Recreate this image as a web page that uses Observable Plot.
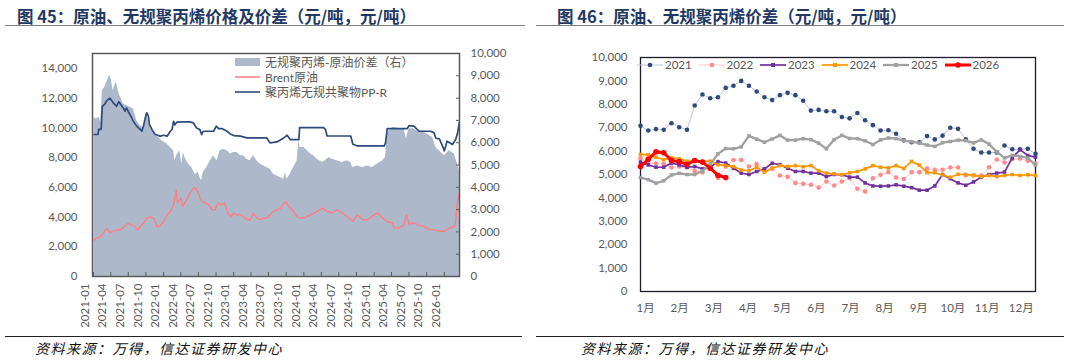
<!DOCTYPE html>
<html><head><meta charset="utf-8">
<script src="https://cdn.jsdelivr.net/npm/d3@7"></script>
<script src="https://cdn.jsdelivr.net/npm/@observablehq/plot@0.6"></script>
<style>
html,body{margin:0;padding:0;background:#fff;}
body{width:1068px;height:360px;overflow:hidden;position:relative;font-family:Lato,"Noto Sans CJK SC",sans-serif;}
.panel{position:absolute;top:0;width:534px;height:360px;}
.title{position:absolute;top:4px;font-weight:bold;font-size:16.5px;font-family:"Noto Sans CJK SC",sans-serif;color:#1f3864;white-space:nowrap;}
.rule{position:absolute;height:0;}
.foot{position:absolute;top:338px;font-size:14px;letter-spacing:1.5px;font-style:italic;font-family:"Noto Sans CJK SC",sans-serif;color:#111;white-space:nowrap;}
.chart{position:absolute;top:30px;left:0;}
.chart svg{overflow:visible;}
.leg{position:absolute;font-size:12px;color:#595959;font-family:Lato,"Noto Sans CJK SC",sans-serif;white-space:nowrap;z-index:2;}
.leg .row{display:flex;align-items:center;height:15px;}
.leg svg{display:block;margin-right:4px;}
.leg2{position:absolute;top:58px;left:637px;display:flex;font-size:11.5px;color:#595959;font-family:Lato,sans-serif;z-index:2;}
.leg2 .it{display:flex;align-items:center;width:61.5px;}
.leg2 svg{display:block;margin-right:2px;}
</style></head>
<body>
<div class="panel" style="left:0">
  <div class="title" style="left:17px">图 45：原油、无规聚丙烯价格及价差（元/吨，元/吨）</div>
  <div class="rule" style="left:5px;width:520px;top:25px;border-top:1.6px solid #7f7f7f"></div>
  <div class="chart" id="c1"></div>
  <div class="leg" style="left:235px;top:54px">
    <div class="row"><svg width="26" height="10"><rect x="0" y="1" width="25" height="8" fill="#adb9ca"/></svg>无规聚丙烯-原油价差（右）</div>
    <div class="row"><svg width="26" height="10"><line x1="0" x2="25" y1="5" y2="5" stroke="#ff7c80" stroke-width="1.5"/></svg>Brent原油</div>
    <div class="row"><svg width="26" height="10"><line x1="0" x2="25" y1="5" y2="5" stroke="#2f4a7c" stroke-width="1.6"/></svg>聚丙烯无规共聚物PP-R</div>
  </div>
  <div class="rule" style="left:5px;width:517px;top:336px;border-top:1px solid #222"></div>
  <div class="foot" style="left:35px">资料来源：万得，信达证券研发中心</div>
</div>
<div class="panel" style="left:534px">
  <div class="title" style="left:23px">图 46：原油、无规聚丙烯价差（元/吨，元/吨）</div>
  <div class="rule" style="left:2px;width:528px;top:25px;border-top:1.6px solid #7f7f7f"></div>
  <div class="chart" id="c2"></div>
  <div class="rule" style="left:2px;width:528px;top:336px;border-top:1px solid #222"></div>
  <div class="foot" style="left:47px">资料来源：万得，信达证券研发中心</div>
</div>
<div class="leg2" id="leg2"></div>
<script>
// ---------- Left chart data (元/吨) ----------
const pprPrice = [
["2021-01-04",9550],["2021-01-25",9550],["2021-01-28",9890],["2021-02-10",9890],["2021-02-16",11450],["2021-03-01",11600],["2021-03-10",11800],["2021-03-27",12000],["2021-04-13",11700],["2021-05-01",11450],["2021-05-13",11760],["2021-06-05",11340],["2021-06-14",11120],["2021-06-22",11340],["2021-07-01",11100],["2021-07-19",10680],["2021-07-27",10450],["2021-08-14",10110],["2021-09-01",9890],["2021-09-10",9780],["2021-09-18",10110],["2021-10-02",10900],["2021-10-06",11000],["2021-10-14",10780],["2021-10-19",10230],["2021-11-01",9890],["2021-11-18",9550],["2021-12-14",9440],["2022-01-01",9500],["2022-01-19",9440],["2022-02-05",9770],["2022-02-14",9890],["2022-02-22",10440],["2022-03-01",10200],["2022-03-10",10380],["2022-04-14",10400],["2022-05-18",10400],["2022-06-05",10330],["2022-06-22",9990],["2022-07-09",9880],["2022-07-18",9550],["2022-07-26",9770],["2022-09-18",9770],["2022-10-02",10110],["2022-10-14",9950],["2022-11-01",9950],["2022-11-27",9770],["2022-12-14",9590],["2023-01-01",9480],["2023-02-05",9440],["2023-03-10",9320],["2023-06-22",9320],["2023-07-09",8990],["2023-08-14",9050],["2023-09-18",9320],["2023-10-06",9500],["2023-10-22",9210],["2023-12-06",9210],["2023-12-10",10010],["2024-04-12",10010],["2024-04-22",9890],["2024-05-01",9450],["2024-09-01",9450],["2024-09-12",8900],["2024-10-06",8780],["2025-02-22",8780],["2025-03-01",8990],["2025-03-10",9950],["2025-06-22",9950],["2025-07-01",10150],["2025-07-27",10110],["2025-08-22",9770],["2025-10-22",9770],["2025-11-09",9660],["2025-11-18",9300],["2025-12-06",9260],["2025-12-22",8800],["2026-01-01",8450],["2026-01-15",9100],["2026-01-22",9050],["2026-02-12",8880],["2026-03-01",9210],["2026-03-10",9600],["2026-03-20",10350]
];
const brentPrice = [
["2021-01-04",2450],["2021-01-12",2560],["2021-02-05",2670],["2021-02-22",2900],["2021-03-05",3150],["2021-03-12",3200],["2021-03-27",2950],["2021-04-13",3020],["2021-05-01",3130],["2021-05-18",3130],["2021-06-14",3400],["2021-07-01",3580],["2021-07-19",3450],["2021-08-05",3360],["2021-08-18",3130],["2021-09-01",3360],["2021-09-18",3580],["2021-10-06",3920],["2021-10-22",4030],["2021-11-10",3920],["2021-11-27",3360],["2021-12-14",3400],["2022-01-01",3700],["2022-01-19",4150],["2022-02-05",4370],["2022-02-22",4820],["2022-03-08",5800],["2022-03-15",4940],["2022-04-01",5280],["2022-04-10",4720],["2022-05-01",5170],["2022-05-18",5620],["2022-06-05",5950],["2022-06-14",6000],["2022-07-01",5620],["2022-07-18",5050],["2022-08-05",4940],["2022-08-22",4830],["2022-09-10",4490],["2022-09-27",4490],["2022-10-10",4940],["2022-10-27",4830],["2022-11-14",4940],["2022-12-01",4270],["2022-12-18",4040],["2023-01-01",4270],["2023-01-18",4150],["2023-02-05",4150],["2023-02-22",4040],["2023-03-10",3820],["2023-03-27",3820],["2023-04-14",4270],["2023-05-01",3930],["2023-05-18",3820],["2023-06-05",3930],["2023-06-22",3930],["2023-07-10",4150],["2023-07-27",4380],["2023-08-14",4490],["2023-09-01",4600],["2023-09-18",4940],["2023-09-27",5050],["2023-10-14",4720],["2023-11-01",4490],["2023-11-18",4150],["2023-12-06",3930],["2024-01-01",3930],["2024-02-05",4150],["2024-03-10",4380],["2024-04-06",4600],["2024-05-01",4380],["2024-05-27",4270],["2024-06-22",4490],["2024-07-18",4270],["2024-08-14",4040],["2024-09-10",3710],["2024-10-06",4150],["2024-11-01",3820],["2024-11-27",3820],["2025-01-01",4150],["2025-01-18",4270],["2025-02-14",3930],["2025-03-10",3710],["2025-04-06",3600],["2025-04-14",3260],["2025-05-10",3260],["2025-06-05",3480],["2025-06-18",4150],["2025-07-01",3530],["2025-07-27",3600],["2025-08-22",3440],["2025-09-18",3370],["2025-10-14",3150],["2025-11-10",3150],["2025-12-06",3040],["2026-01-01",3040],["2026-01-27",3260],["2026-02-22",3370],["2026-03-01",3710],["2026-03-10",5050],["2026-03-20",5620]
];
// spread, right axis
const spreadValue = [
["2021-01-04",7140],["2021-01-12",7060],["2021-02-01",7140],["2021-02-08",6910],["2021-02-16",8340],["2021-03-01",8490],["2021-03-18",8870],["2021-03-27",9020],["2021-04-05",8790],["2021-04-13",8340],["2021-04-22",8570],["2021-05-01",8720],["2021-05-10",8340],["2021-05-18",8120],["2021-06-05",7740],["2021-06-22",7670],["2021-07-10",7590],["2021-07-27",7520],["2021-08-14",6990],["2021-09-01",6760],["2021-09-18",6690],["2021-10-01",7250],["2021-10-06",7370],["2021-10-19",6760],["2021-11-01",6540],["2021-11-18",6310],["2021-12-05",6240],["2021-12-22",6090],["2022-01-19",5940],["2022-02-05",5790],["2022-02-22",5640],["2022-03-01",5190],["2022-03-10",5410],["2022-03-27",5640],["2022-04-05",5040],["2022-04-14",5560],["2022-04-22",5340],["2022-05-10",5040],["2022-05-27",4890],["2022-06-14",4590],["2022-07-01",4660],["2022-07-09",4440],["2022-07-18",4290],["2022-07-26",4660],["2022-08-14",4890],["2022-09-01",5190],["2022-09-18",5410],["2022-10-06",5190],["2022-10-22",5640],["2022-11-09",5710],["2022-11-27",5640],["2022-12-14",5490],["2023-01-01",5560],["2023-01-18",5560],["2023-02-05",5410],["2023-02-22",5410],["2023-03-10",5260],["2023-03-27",5190],["2023-04-14",5410],["2023-05-01",5190],["2023-05-18",5040],["2023-06-05",4960],["2023-06-22",4890],["2023-07-10",4810],["2023-07-27",4590],["2023-08-14",4510],["2023-09-01",4440],["2023-09-18",4360],["2023-09-27",4660],["2023-10-06",4360],["2023-10-22",4590],["2023-11-09",4890],["2023-11-27",5190],["2023-12-06",6090],["2023-12-12",5790],["2024-01-01",5790],["2024-01-19",5640],["2024-02-05",5490],["2024-02-22",5410],["2024-03-10",5260],["2024-04-06",5110],["2024-04-22",5190],["2024-05-10",5340],["2024-05-27",5260],["2024-06-22",5190],["2024-07-18",5110],["2024-08-14",5190],["2024-09-01",5110],["2024-09-10",4890],["2024-10-06",4960],["2024-11-01",4890],["2024-11-27",4960],["2024-12-22",4890],["2025-01-18",5040],["2025-02-14",5190],["2025-03-01",5340],["2025-03-10",6390],["2025-03-27",6620],["2025-04-14",6690],["2025-05-10",6620],["2025-06-05",6620],["2025-06-18",6170],["2025-07-01",6620],["2025-07-27",6620],["2025-08-22",6470],["2025-09-18",6470],["2025-10-14",6320],["2025-11-01",6240],["2025-11-18",5790],["2025-12-06",5640],["2026-01-01",5410],["2026-01-27",5640],["2026-02-22",5490],["2026-03-10",5040],["2026-03-20",4740]
];
const leftTicks = [0,2000,4000,6000,8000,10000,12000,14000];
const rightTicks = [0,1000,2000,3000,4000,5000,6000,7000,8000,9000,10000];
const quarterLabels = ["2021-01","2021-04","2021-07","2021-10","2022-01","2022-04","2022-07","2022-10","2023-01","2023-04","2023-07","2023-10","2024-01","2024-04","2024-07","2024-10","2025-01","2025-04","2025-07","2025-10","2026-01"];

// ---------- Right chart data (weekly spread, 元/吨) ----------
const years = ["2021","2022","2023","2024","2025","2026"];
const s2021 = [7080,6880,6940,6910,7190,7020,6910,7950,8420,8260,8300,8700,8790,9000,8790,8550,8300,8180,8390,8490,8390,8150,7730,7760,7700,7700,7460,7400,7630,7320,7110,6880,6890,6740,6460,6380,6380,6640,6500,6660,7000,6950,6500,6100,5940,5940,5940,6240,6080,6080,6100,5880];
const s2022 = [5690,5500,5470,5450,5300,5340,5300,5150,5090,5350,4850,5340,5620,5620,5340,5450,5220,5250,4960,4900,4640,4600,4560,4440,4700,4530,4700,4840,4390,4270,4840,4990,5100,4870,4810,5100,5100,5250,5200,5200,5300,5300,4970,4970,4960,5310,5640,5510,5650,5680,5590,5470];
const s2023 = [5530,5410,5310,5310,5490,5410,5310,5340,5240,5310,5550,5490,5270,5060,5000,5130,5240,5480,5420,5270,5130,5130,5060,5060,4910,5000,4990,4890,4890,4640,4510,4500,4510,4560,4500,4440,4330,4330,4510,5000,4820,4640,4540,4680,4890,5000,5060,5100,5710,6060,5810,5740];
const s2024 = [5860,5840,5740,5630,5710,5670,5570,5570,5560,5570,5420,5380,5340,5190,5160,5310,5100,5270,5380,5340,5380,5330,5380,5160,5060,5030,4990,5070,5130,5240,5380,5310,5280,5380,5260,5560,5400,5080,5080,4980,4880,5010,5000,4960,4910,4960,4910,4960,5000,4960,4990,4960];
const s2025 = [4870,4780,4630,4730,4980,5050,5000,5000,5150,5430,5880,6110,6100,6180,6650,6510,6380,6520,6670,6470,6470,6530,6490,6340,6100,6490,6670,6540,6530,6440,6280,6480,6560,6530,6450,6400,6340,6260,6200,6360,6410,6470,6450,6350,6480,6300,5970,5710,5820,5770,5710,5400];
const s2026 = [5340,5650,5970,5930,5600,5550,5430,5600,5530,5270,4970,4870];
const monthLabels = ["1月","2月","3月","4月","5月","6月","7月","8月","9月","10月","11月","12月"];

const parse = d3.utcParse("%Y-%m-%d");
const fmt = d3.format(",");
const K = 1.5; // left-axis max 15000 vs right-axis max 10000
const toRows = arr => arr.map(([d, v]) => ({date: parse(d), value: v}));
const ppr = toRows(pprPrice), brent = toRows(brentPrice), spread = toRows(spreadValue);
const qTicks = quarterLabels.map(s => parse(s + "-01"));

const axisStyle = {fontFamily: 'Lato,"Noto Sans CJK SC",sans-serif', fontSize: "11.5px", color: "#595959", background: "transparent"};

const c1 = Plot.plot({
  width: 534, height: 300,
  marginTop: 23, marginBottom: 54, marginLeft: 92, marginRight: 75,
  style: axisStyle,
  x: {type: "utc", domain: [parse("2020-12-27"), parse("2026-03-21")], label: null},
  y: {domain: [0, 15000], label: null},
  marks: [
    Plot.areaY(spread, {x: "date", y: d => d.value * K, fill: "#adb9ca"}),
    Plot.lineY(brent, {x: "date", y: "value", stroke: "#ff7c80", strokeWidth: 1.4}),
    Plot.lineY(ppr, {x: "date", y: "value", stroke: "#2f4a7c", strokeWidth: 1.7}),
    Plot.frame({stroke: "#595959", strokeWidth: 1.5}),
    Plot.axisY(leftTicks, {anchor: "left", label: null, tickSize: 0, tickPadding: 15, tickFormat: fmt}),
    Plot.axisY(rightTicks.map(v => v * K), {anchor: "right", label: null, tickSize: -4, tickPadding: 15, tickFormat: d => fmt(Math.round(d / K)), stroke: "#595959"}),
    Plot.axisX(qTicks, {anchor: "bottom", label: null, tickSize: -4, tickFormat: () => "", stroke: "#595959"}),
    Plot.axisX(qTicks, {anchor: "bottom", label: null, tickSize: 0, tickPadding: 7, tickRotate: -90, dx: -8, tickFormat: d3.utcFormat("%Y-%m")})
  ]
});
document.getElementById("c1").append(c1);

// right chart
const styles = {
  "2021": {line: "#b9c4d6", lw: 1, dot: "#2e4a7c", sym: "circle", r: 2.3},
  "2022": {line: "#ffc9c9", lw: 1, dot: "#ff8a8a", sym: "circle", r: 2.3},
  "2023": {line: "#7030a0", lw: 1.7, dot: "#7030a0", sym: "square", r: 2},
  "2024": {line: "#ff9500", lw: 1.7, dot: "#ff9500", sym: "square", r: 2},
  "2025": {line: "#a0a0a0", lw: 2.3, dot: "#a0a0a0", sym: "square", r: 2},
  "2026": {line: "#ff0000", lw: 3, dot: "#ff0000", sym: "circle", r: 2.8}
};
const seriesByYear = {"2021": s2021, "2022": s2022, "2023": s2023, "2024": s2024, "2025": s2025, "2026": s2026};
const weekly = years.flatMap(y => seriesByYear[y].map((v, i) => ({year: y, week: i + 1, value: v})));
const monthTicks = monthLabels.map((m, i) => ({pos: 1.65 + i * 4.41, label: m}));

const marks2 = [Plot.frame({stroke: "#1c1c2a", strokeWidth: 1.3})];
for (const y of years) {
  const st = styles[y];
  const rows = weekly.filter(d => d.year === y);
  marks2.push(Plot.lineY(rows, {x: "week", y: "value", stroke: st.line, strokeWidth: st.lw}));
  marks2.push(Plot.dot(rows, {x: "week", y: "value", fill: st.dot, r: st.r, symbol: st.sym, stroke: "none"}));
}
marks2.push(Plot.axisY(rightTicks, {anchor: "left", label: null, tickSize: 0, tickPadding: 13, tickFormat: fmt}));
marks2.push(Plot.text(monthTicks, {x: "pos", text: "label", frameAnchor: "bottom", dy: 20, fill: "#595959", fontSize: 11.5}));

const c2 = Plot.plot({
  width: 534, height: 300,
  marginTop: 27, marginBottom: 39, marginLeft: 106, marginRight: 33,
  style: axisStyle,
  x: {domain: [1, 52], axis: null, label: null},
  y: {domain: [0, 10000], axis: null, label: null},
  marks: marks2
});
document.getElementById("c2").append(c2);

// right legend
const leg2 = document.getElementById("leg2");
for (const y of years) {
  const st = styles[y];
  const it = document.createElement("div");
  it.className = "it";
  const mk = st.sym === "square"
    ? `<rect x="${13 - st.r}" y="${5 - st.r}" width="${2 * st.r}" height="${2 * st.r}" fill="${st.dot}"/>`
    : `<circle cx="13" cy="5" r="${st.r}" fill="${st.dot}"/>`;
  it.innerHTML = `<svg width="26" height="10"><line x1="0" x2="26" y1="5" y2="5" stroke="${st.line}" stroke-width="${st.lw}"/>${mk}</svg><span>${y}</span>`;
  leg2.append(it);
}
</script>
</body></html>
